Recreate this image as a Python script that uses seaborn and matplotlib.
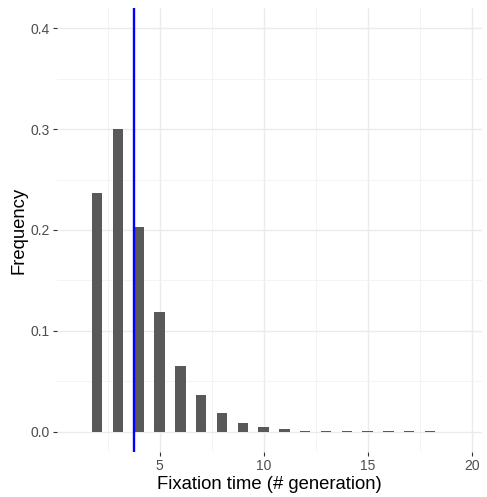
import seaborn as sns
from matplotlib import pyplot as plt

# fixation time distribution (frequency per generation count)
generations = [2, 3, 4, 5, 6, 7, 8, 9, 10, 11, 12, 13, 14, 15, 16, 17, 18]
frequency = [0.237, 0.300, 0.203, 0.119, 0.065, 0.036, 0.0185, 0.009, 0.005,
             0.0024, 0.0013, 0.0009, 0.0008, 0.0008, 0.0008, 0.0008, 0.0008]
mean_fixation = 3.78

x_ticks = [5, 10, 15, 20]
y_ticks = [0.0, 0.1, 0.2, 0.3, 0.4]

sns.set_theme(style="whitegrid")
plt.rcParams['font.family'] = ['Liberation Sans', 'DejaVu Sans']

fig = plt.figure(figsize=(4.87, 4.97), dpi=100)
ax = fig.add_axes([57/487, 1 - 452/497, 425/487, 444/497])

sns.barplot(x=generations, y=frequency, native_scale=True, width=0.5,
            color='#595959', saturation=1, linewidth=0, ax=ax, zorder=3)
ax.axvline(mean_fixation, color='#0000FF', linewidth=1.7, zorder=4)

ax.set_xlim(0.07, 20.5)
ax.set_ylim(-0.02, 0.42)
ax.set_xticks(x_ticks)
ax.set_xticks([2.5, 7.5, 12.5, 17.5], minor=True)
ax.set_yticks(y_ticks)
ax.set_yticks([0.05, 0.15, 0.25, 0.35], minor=True)
ax.set_yticklabels([f'{v:.1f}' for v in y_ticks])

ax.grid(which='major', color='#EBEBEB', linewidth=1.0)
ax.grid(which='minor', color='#F2F2F2', linewidth=0.6)
ax.set_axisbelow(True)
for s in ax.spines.values():
    s.set_visible(False)

ax.tick_params(axis='both', which='major', length=3, width=0.8, color='#333333',
               labelsize=10, labelcolor='#4D4D4D', pad=2, bottom=True, left=True)
ax.tick_params(axis='both', which='minor', length=0)

ax.set_xlabel('Fixation time (# generation)', fontsize=13.3, color='black', labelpad=2)
ax.set_ylabel('Frequency', fontsize=13.3, color='black', labelpad=2)

plt.savefig('out.png', dpi=100)
plt.close()
